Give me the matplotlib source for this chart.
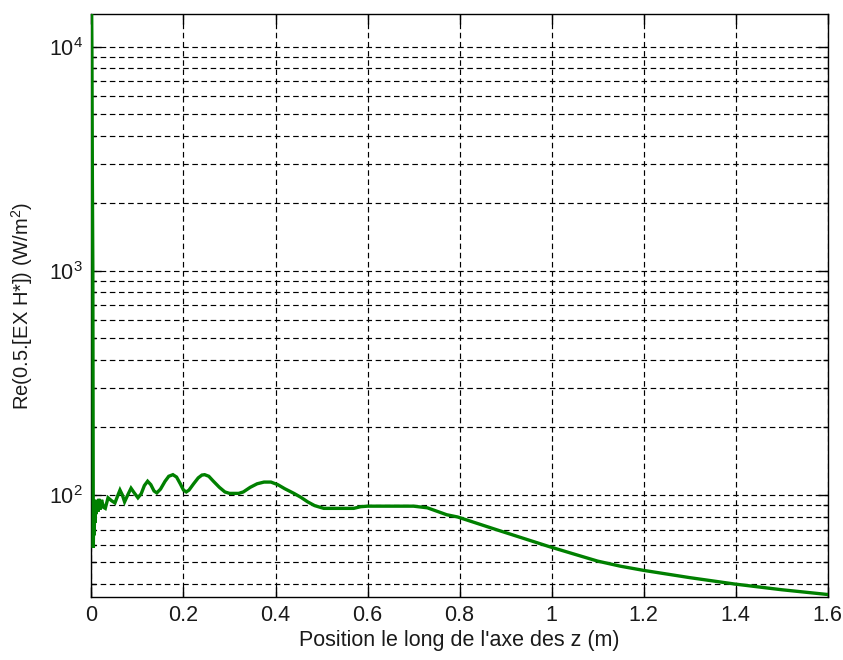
import matplotlib
matplotlib.use("Agg")
import matplotlib.pyplot as plt
from matplotlib.ticker import LogLocator, FixedLocator

plt.rcParams['font.family'] = ['Liberation Sans', 'DejaVu Sans']
plt.rcParams['lines.scale_dashes'] = False
plt.rcParams['mathtext.fontset'] = 'custom'
plt.rcParams['mathtext.rm'] = 'Liberation Sans'
plt.rcParams['mathtext.it'] = 'Liberation Sans'

# Position along z (m) and real part of the Poynting vector (W/m^2)
z = [0.000, 0.001, 0.002, 0.003, 0.004, 0.005, 0.006, 0.007, 0.008, 0.009,
     0.010, 0.012, 0.014, 0.016, 0.019, 0.022, 0.026, 0.030, 0.036, 0.044,
     0.051, 0.057, 0.062, 0.067, 0.072, 0.079, 0.086, 0.093, 0.101, 0.108,
     0.115, 0.122, 0.129, 0.136, 0.142, 0.150, 0.160, 0.168, 0.177, 0.185,
     0.193, 0.200, 0.206, 0.212, 0.222, 0.232, 0.240, 0.246, 0.255, 0.265,
     0.278, 0.290, 0.300, 0.320, 0.330, 0.345, 0.360, 0.375, 0.390, 0.405,
     0.420, 0.440, 0.455, 0.470, 0.485, 0.505, 0.570, 0.585, 0.600, 0.700,
     0.730, 0.772, 0.796, 0.881, 0.994, 1.050, 1.100, 1.150, 1.200, 1.300,
     1.397, 1.500, 1.600]
S = [20000, 9400, 2500, 1000, 58, 95, 66, 92, 75, 95,
     82, 93, 84, 96, 86, 95, 88, 87, 97, 94,
     92, 99, 105, 100, 93, 100, 107, 102, 97, 101,
     110, 115, 111, 104, 102, 106, 115, 121, 123, 120,
     112, 105, 103, 105, 112, 119, 122.5, 123, 121, 115,
     108, 103, 101.5, 101.5, 103, 108, 112, 114, 114, 111,
     106.5, 101.5, 97.5, 93, 89.5, 87, 87, 88.5, 89, 89,
     87.5, 81.5, 79.6, 69.8, 58.8, 54.3, 50.6, 48.0, 46.0, 42.7,
     40.0, 37.7, 35.9]

x_ticks = [0, 0.2, 0.4, 0.6, 0.8, 1.0, 1.2, 1.4, 1.6]
x_labels = ['0', '0.2', '0.4', '0.6', '0.8', '1', '1.2', '1.4', '1.6']

fig = plt.figure(figsize=(8.43, 6.6), dpi=100)
ax = fig.add_axes([0.1085, 0.0955, 0.8733, 0.8833])

ax.semilogy(z, S, color='#008000', lw=2.4, zorder=3, solid_joinstyle='miter')

ax.set_xlim(0, 1.6)
ax.set_ylim(35, 1.4e4)
ax.xaxis.set_major_locator(FixedLocator(x_ticks))
ax.set_xticklabels(x_labels)
ax.yaxis.set_major_locator(LogLocator(base=10, numticks=10))
ax.yaxis.set_minor_locator(LogLocator(base=10, subs=range(2, 10), numticks=10))

dash = (0, (4.0, 2.6))
ax.grid(True, which='major', axis='both', color='black', lw=0.85, linestyle=dash)
ax.grid(True, which='minor', axis='y', color='black', lw=0.85, linestyle=dash)

ax.tick_params(which='both', direction='in', top=True, right=True,
               labelsize=15.5, colors='black', labelcolor='#1a1a1a', width=1.0)
ax.tick_params(which='major', length=7, pad=6)
ax.tick_params(which='minor', length=3.5)
for sp in ax.spines.values():
    sp.set_linewidth(1.0)

ax.set_xlabel("Position le long de l'axe des z (m)", fontsize=15.5,
              color='#1a1a1a', labelpad=3)
ax.set_ylabel("Re(0.5.[EX H*]) (W/m$^2$)", fontsize=14.5,
              color='#1a1a1a', labelpad=10)

fig.savefig("out.png", dpi=100, facecolor='white')
